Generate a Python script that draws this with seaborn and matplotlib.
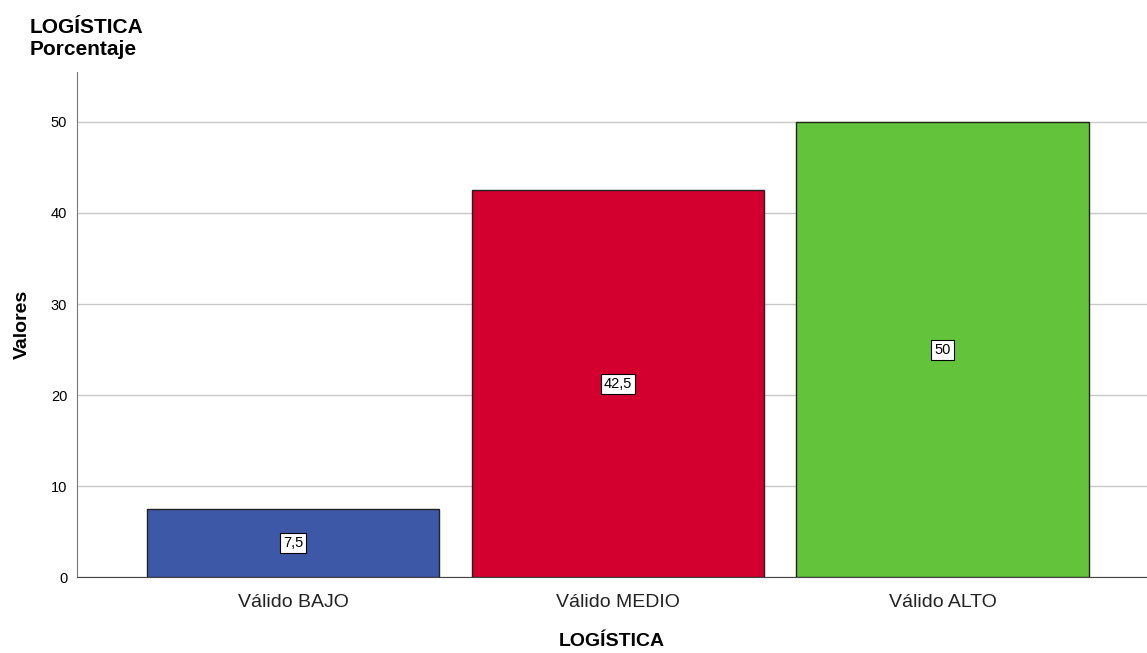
import pandas as pd
import seaborn as sns
from matplotlib import pyplot as plt

categorias = ["Válido BAJO", "Válido MEDIO", "Válido ALTO"]
porcentajes = [7.5, 42.5, 50]
etiquetas = ["7,5", "42,5", "50"]
colores = ["#3D58A7", "#D3002F", "#63C43C"]

sns.set_style("white")
plt.rcParams['font.family'] = ['Liberation Sans', 'DejaVu Sans']
plt.rcParams['text.color'] = 'black'
plt.rcParams['axes.labelcolor'] = 'black'

df = pd.DataFrame({"categoria": categorias, "valor": porcentajes})

fig = plt.figure(figsize=(11.47, 6.53), dpi=100)
ax = fig.add_axes([0.067, 0.116, 0.933, 0.774])

sns.barplot(data=df, x="categoria", y="valor", hue="categoria", palette=colores,
            saturation=1, width=0.9, edgecolor="#222222", linewidth=1.0,
            legend=False, ax=ax, zorder=3)

for i, (v, t) in enumerate(zip(porcentajes, etiquetas)):
    ax.text(i, v / 2, t, ha="center", va="center", fontsize=10.5, zorder=4,
            bbox=dict(boxstyle="square,pad=0.2", fc="white", ec="black", lw=0.8))

ax.set_xlim(-0.666, 2.63)
ax.set_ylim(0, 55.5)
ax.set_yticks([0, 10, 20, 30, 40, 50])
ax.yaxis.grid(True, color="#c8c8c8", linewidth=1.0, zorder=0)
ax.set_axisbelow(True)

for s in ["top", "right"]:
    ax.spines[s].set_visible(False)
ax.spines["left"].set_color("#777777")
ax.spines["bottom"].set_color("#444444")

ax.tick_params(axis="y", labelsize=10.5, length=0, pad=7, colors="black")
ax.tick_params(axis="x", labelsize=14, length=0, pad=12, colors="#222222")

ax.set_xlabel("LOGÍSTICA", fontsize=14, fontweight="bold", labelpad=16)
ax.set_ylabel("Valores", fontsize=14, fontweight="bold", labelpad=14)

fig.text(0.026, 0.958, "LOGÍSTICA", fontsize=15, fontweight="bold", va="center")
fig.text(0.026, 0.924, "Porcentaje", fontsize=15, fontweight="bold", va="center")

fig.savefig("out.png", dpi=100)
